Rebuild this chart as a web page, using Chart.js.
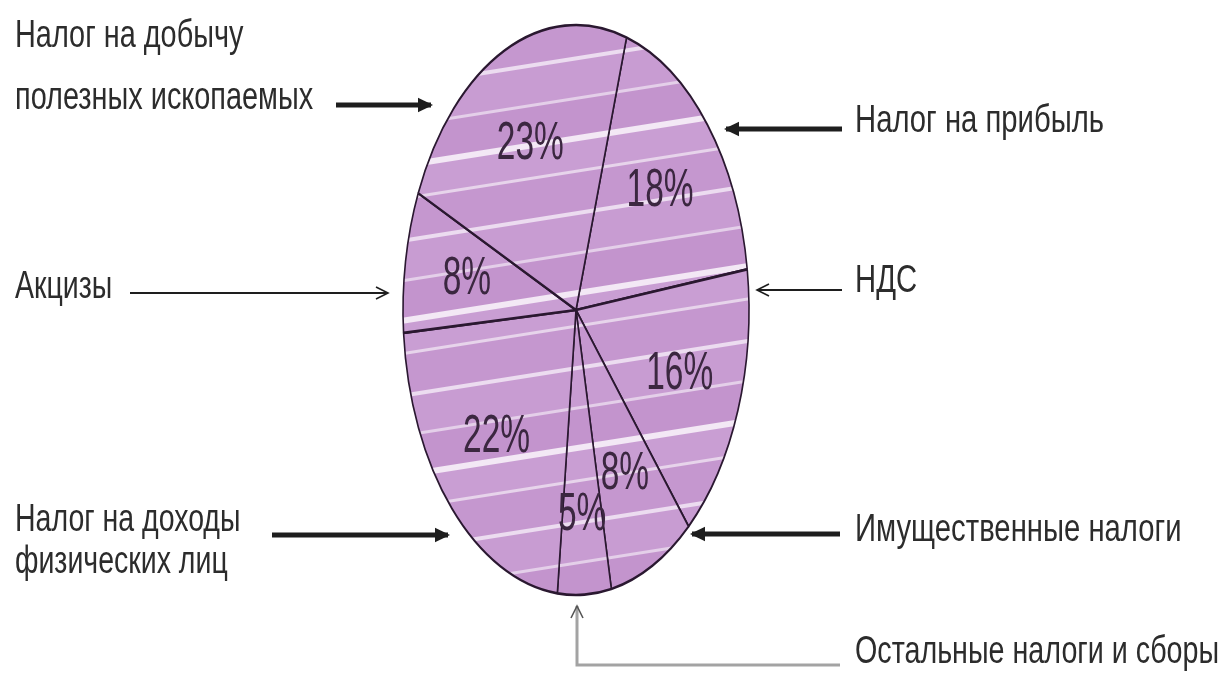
<!DOCTYPE html>
<html lang="ru">
<head>
<meta charset="utf-8">
<title>Структура налоговых доходов</title>
<script src="https://cdn.jsdelivr.net/npm/chart.js@4/dist/chart.umd.min.js"></script>
<style>
  html, body { margin: 0; padding: 0; background: #fff; }
  #wrap { width: 1232px; height: 678px; }
</style>
</head>
<body>
<div id="wrap"><canvas id="taxChart" width="1232" height="678"></canvas></div>
<script>
// slices, clockwise from the line at the top
const categories = [
    'Налог на прибыль',
    'НДС',
    'Имущественные налоги',
    'Остальные налоги и сборы',
    'Налог на доходы физических лиц',
    'Акцизы',
    'Налог на добычу полезных ископаемых'
];
const shares = [18, 16, 8, 5, 22, 8, 23];
// words kept on the first line of a callout (0 = one line)
const lineBreaks = [0, 0, 0, 0, 3, 0, 3];

// the hand drawn pie is an ellipse: width 346, height 570
const stretchY = 285 / 173;
// no narrow face installed, so Liberation Sans gets squeezed by hand
const FONT = '"Liberation Sans", Arial, sans-serif';

// where each callout sits and where its arrow goes
const callouts = [
    { x: 855, y: 132, arrow: [[842, 129], [726, 129]], width: 5, head: 'solid', sx: 0.77 },
    { x: 855, y: 292, arrow: [[842, 290], [757, 290]], width: 2, head: 'open', sx: 0.77 },
    { x: 855, y: 541, arrow: [[840, 534], [692, 534]], width: 5, head: 'solid', sx: 0.77 },
    { x: 855, y: 663, arrow: [[840, 665], [577, 665], [577, 606]], width: 3, head: 'open', color: '#a3a3a3', sx: 0.755 },
    { x: 15, y: 531, arrow: [[272, 535], [448, 535]], width: 5, head: 'solid', gap: 42, sx: 0.75 },
    { x: 15, y: 298, arrow: [[130, 293], [388, 293]], width: 2, head: 'open', sx: 0.75 },
    { x: 15, y: 47, arrow: [[336, 105], [431, 105]], width: 5, head: 'solid', gap: 62, sx: 0.76 }
];

function brushPattern() {
    // uneven marker strokes with thin pale gaps between them
    const bands = [
        [0, 38, '#c597cf'], [38, 42, '#ecdcf0'], [42, 78, '#c89cd2'],
        [78, 81, '#e4cfe9'], [81, 116, '#c394cd'], [116, 122, '#f3e8f5'],
        [122, 150, '#c99ed3'], [150, 153, '#e7d4eb']
    ];
    const tile = document.createElement('canvas');
    tile.width = 8;
    tile.height = 153;
    const t = tile.getContext('2d');
    bands.forEach(([a, b, c]) => { t.fillStyle = c; t.fillRect(0, a, 8, b - a); });
    const ctx = document.getElementById('taxChart').getContext('2d');
    const p = ctx.createPattern(tile, 'repeat');
    // undo the vertical stretch so the strokes look the same on screen, tilt them a bit
    p.setTransform(new DOMMatrix().scale(1, 1 / stretchY).rotate(-9));
    return p;
}

function arrowHead(ctx, from, to, type, size) {
    const a = Math.atan2(to[1] - from[1], to[0] - from[0]);
    ctx.save();
    ctx.translate(to[0], to[1]);
    ctx.rotate(a);
    ctx.beginPath();
    if (type === 'solid') {
        ctx.moveTo(2, 0);
        ctx.lineTo(-size, -size * 0.55);
        ctx.lineTo(-size, size * 0.55);
        ctx.closePath();
        ctx.fill();
    } else {
        ctx.lineWidth = 1.6;
        ctx.moveTo(-size, -size * 0.5);
        ctx.lineTo(0, 0);
        ctx.lineTo(-size, size * 0.5);
        ctx.stroke();
    }
    ctx.restore();
}

function squeezedText(ctx, text, x, y, sx) {
    ctx.save();
    ctx.translate(x, y);
    ctx.scale(sx, 1);
    ctx.fillText(text, 0, 0);
    ctx.restore();
}

const ellipsePlugin = {
    id: 'ellipse',
    beforeDatasetsDraw(chart) {
        const { x, y } = chart.getDatasetMeta(0).data[0];
        const ctx = chart.ctx;
        ctx.save();
        ctx.translate(x, y);
        ctx.scale(1, stretchY);
        ctx.translate(-x, -y);
    },
    afterDatasetsDraw(chart) {
        chart.ctx.restore();
    }
};

const labelsPlugin = {
    id: 'handLabels',
    afterDraw(chart) {
        const ctx = chart.ctx;
        const meta = chart.getDatasetMeta(0);
        const values = chart.data.datasets[0].data;

        // percentages inside the slices
        ctx.save();
        ctx.fillStyle = '#3b2740';
        ctx.textAlign = 'center';
        ctx.textBaseline = 'middle';
        ctx.font = '54px ' + FONT;
        meta.data.forEach((arc, i) => {
            const p = arc.getProps(['x', 'y', 'startAngle', 'endAngle', 'outerRadius'], true);
            const mid = (p.startAngle + p.endAngle) / 2;
            const f = values[i] < 6 ? 0.72 : 0.64;
            const px = p.x + Math.cos(mid) * p.outerRadius * f;
            const py = p.y + Math.sin(mid) * p.outerRadius * f * stretchY;
            squeezedText(ctx, values[i] + '%', px, py, 0.62);
        });
        ctx.restore();

        // callouts with arrows
        chart.data.labels.forEach((name, i) => {
            const c = callouts[i];
            const words = name.split(' ');
            const lines = lineBreaks[i]
                ? [words.slice(0, lineBreaks[i]).join(' '), words.slice(lineBreaks[i]).join(' ')]
                : [name];

            ctx.save();
            ctx.fillStyle = '#2c2c2c';
            ctx.font = '38px ' + FONT;
            ctx.textBaseline = 'alphabetic';
            ctx.textAlign = 'left';
            lines.forEach((line, j) => squeezedText(ctx, line, c.x, c.y + j * (c.gap || 0), c.sx));
            ctx.restore();

            ctx.save();
            ctx.strokeStyle = c.color || '#1e1e1e';
            ctx.fillStyle = '#1e1e1e';
            ctx.lineWidth = c.width;
            ctx.beginPath();
            c.arrow.forEach((pt, k) => (k ? ctx.lineTo(pt[0], pt[1]) : ctx.moveTo(pt[0], pt[1])));
            ctx.stroke();
            const n = c.arrow.length;
            ctx.strokeStyle = c.color ? '#555' : '#1e1e1e';
            arrowHead(ctx, c.arrow[n - 2], c.arrow[n - 1], c.head, c.head === 'solid' ? 13 : 12);
            ctx.restore();
        });
    }
};

new Chart(document.getElementById('taxChart'), {
    type: 'pie',
    data: {
        labels: categories,
        datasets: [{
            data: shares,
            backgroundColor: brushPattern(),
            borderColor: '#2a1830',
            borderWidth: 1.6,
            clip: false
        }]
    },
    options: {
        responsive: false,
        animation: false,
        events: [],
        rotation: 17,
        radius: 173,
        layout: {
            padding: { left: 403, right: 483, top: 137, bottom: 195 }
        },
        plugins: {
            legend: { display: false },
            tooltip: { enabled: false }
        }
    },
    plugins: [ellipsePlugin, labelsPlugin]
});
</script>
</body>
</html>
